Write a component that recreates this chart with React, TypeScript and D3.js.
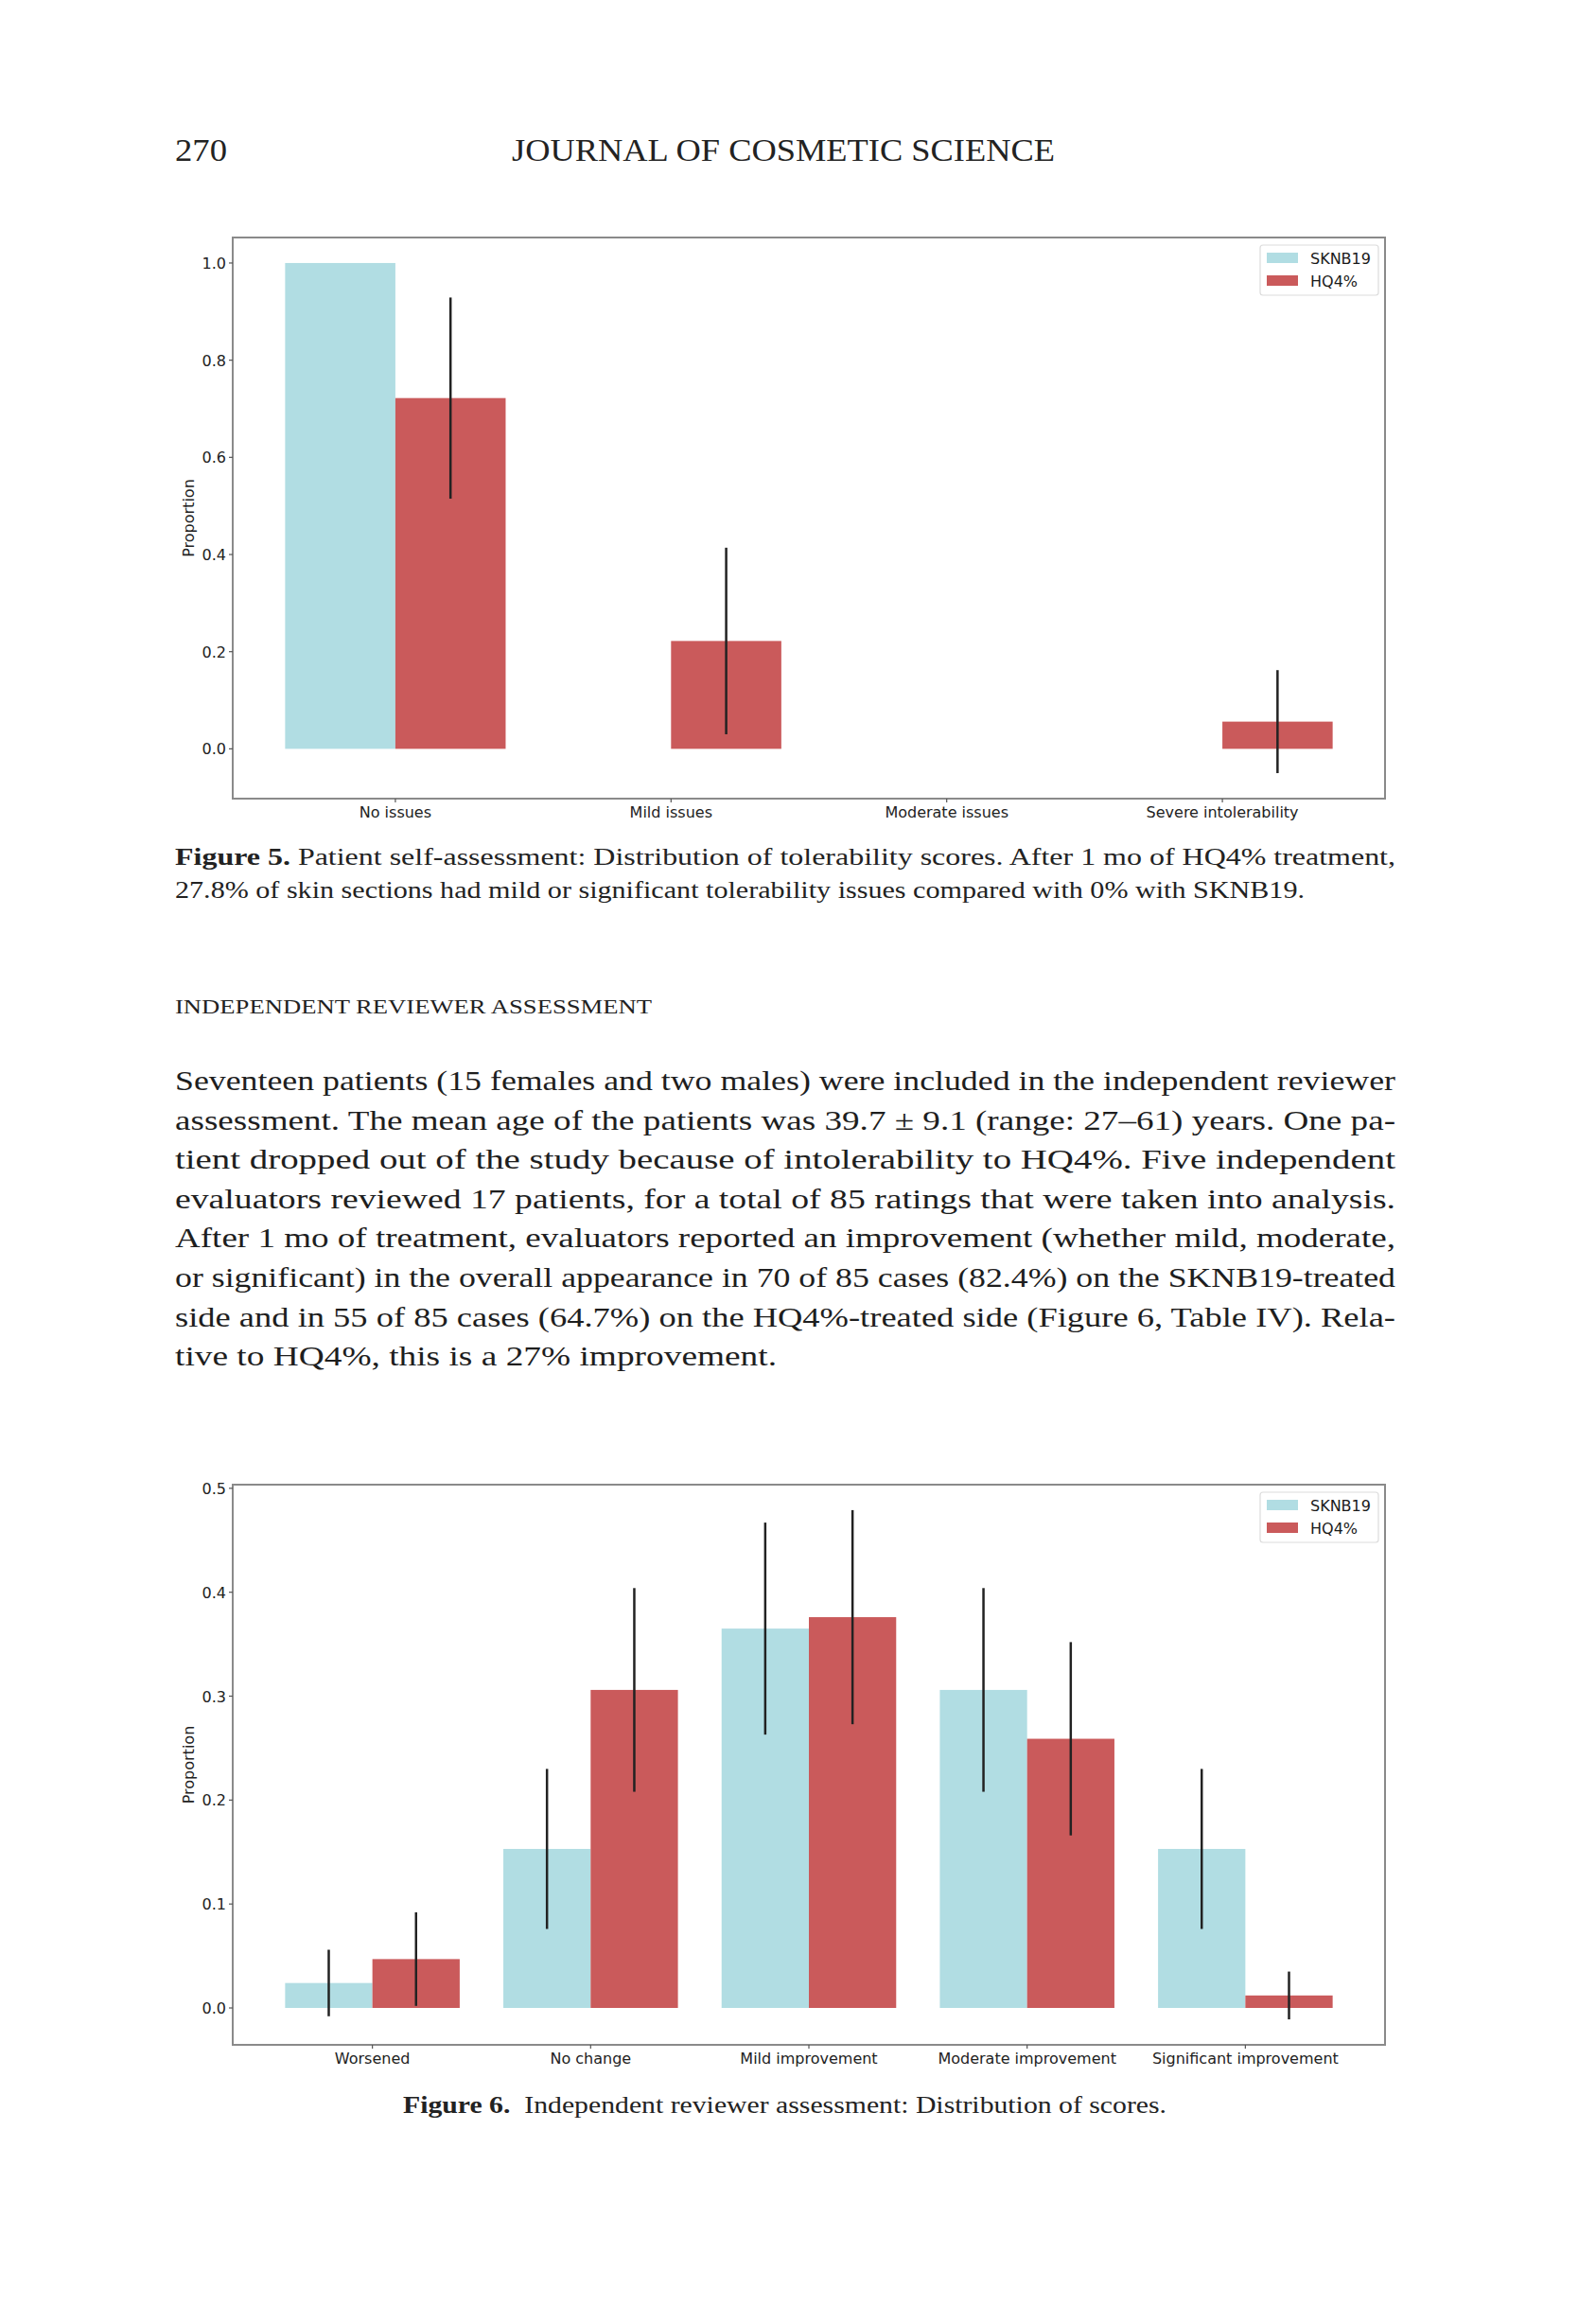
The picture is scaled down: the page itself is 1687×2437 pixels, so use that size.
import React from "react";
import * as d3 from "d3";

// ---------- DATA ----------
const seriesNames = ["SKNB19", "HQ4%"];

const fig5Categories = ["No issues", "Mild issues", "Moderate issues", "Severe intolerability"];
const fig5Sknb = [1.0, 0, 0, 0];
const fig5SknbErr = [0, 0, 0, 0];
const fig5Hq = [0.722, 0.222, 0, 0.056];
const fig5HqErr = [0.207, 0.192, 0, 0.106];
const fig5YTicks = [0, 0.2, 0.4, 0.6, 0.8, 1.0];
const fig5YTickLabels = ["0.0", "0.2", "0.4", "0.6", "0.8", "1.0"];

const fig6Categories = ["Worsened", "No change", "Mild improvement", "Moderate improvement", "Significant improvement"];
const fig6Sknb = [0.024, 0.153, 0.365, 0.306, 0.153];
const fig6SknbErr = [0.032, 0.077, 0.102, 0.098, 0.077];
const fig6Hq = [0.047, 0.306, 0.376, 0.259, 0.012];
const fig6HqErr = [0.045, 0.098, 0.103, 0.093, 0.023];
const fig6YTicks = [0, 0.1, 0.2, 0.3, 0.4, 0.5];
const fig6YTickLabels = ["0.0", "0.1", "0.2", "0.3", "0.4", "0.5"];

const headerPage = "270";
const headerJournal = "JOURNAL OF COSMETIC SCIENCE";
const fig5CaptionLines = [
  "Patient self-assessment: Distribution of tolerability scores. After 1 mo of HQ4% treatment,",
  "27.8% of skin sections had mild or significant tolerability issues compared with 0% with SKNB19.",
];
const sectionHeading = "INDEPENDENT REVIEWER ASSESSMENT";
const bodyLines = [
  "Seventeen patients (15 females and two males) were included in the independent reviewer",
  "assessment. The mean age of the patients was 39.7 \u00B1 9.1 (range: 27\u201361) years. One pa-",
  "tient dropped out of the study because of intolerability to HQ4%. Five independent",
  "evaluators reviewed 17 patients, for a total of 85 ratings that were taken into analysis.",
  "After 1 mo of treatment, evaluators reported an improvement (whether mild, moderate,",
  "or significant) in the overall appearance in 70 of 85 cases (82.4%) on the SKNB19-treated",
  "side and in 55 of 85 cases (64.7%) on the HQ4%-treated side (Figure 6, Table IV). Rela-",
  "tive to HQ4%, this is a 27% improvement.",
];
const bodyLineWidths = [1290, 1290, 1290, 1290, 1290, 1290, 1290, 636];
const fig6CaptionText = "Independent reviewer assessment: Distribution of scores.";

// ---------- STYLE ----------
const COLORS = ["#b1dde3", "#ca5a5b"];
const SANS = "'DejaVu Sans', sans-serif";
const SERIF = "'Liberation Serif', 'DejaVu Serif', serif";
const TEXT_LEFT = 185;
const FRAME_LEFT = 246;
const FRAME_RIGHT = 1464;

type ChartProps = {
  top: number;
  bottom: number;
  categories: string[];
  values: number[][];
  errors: number[][];
  yTicks: number[];
  yTickLabels: string[];
};

function BarChart({ top, bottom, categories, values, errors, yTicks, yTickLabels }: ChartProps) {
  const left = FRAME_LEFT;
  const right = FRAME_RIGHT;
  const n = categories.length;
  const barW = 0.4;
  const xMin = -barW;
  const xMax = n - 1 + barW;
  const xPad = (xMax - xMin) * 0.05;
  const x = d3.scaleLinear().domain([xMin - xPad, xMax + xPad]).range([left, right]);

  const lows: number[] = [0];
  const highs: number[] = [0];
  values.forEach((s, si) =>
    s.forEach((v, i) => {
      lows.push(v - errors[si][i]);
      highs.push(v + errors[si][i]);
    })
  );
  const yLo = d3.min(lows) as number;
  const yHi = d3.max(highs) as number;
  const yPad = (yHi - yLo) * 0.05;
  const y = d3.scaleLinear().domain([yLo - yPad, yHi + yPad]).range([bottom, top]);

  const offsets = [-barW, 0];
  const legendW = 125;
  const legendX = right - 7 - legendW;
  const legendY = top + 8;

  return (
    <g>
      {/* bars */}
      {values.map((s, si) =>
        s.map((v, i) => {
          const x0 = x(i + offsets[si]);
          const x1 = x(i + offsets[si] + barW);
          const y0 = y(Math.max(0, v));
          const y1 = y(Math.min(0, v));
          return (
            <rect
              key={`b${si}-${i}`}
              x={x0}
              y={y0}
              width={x1 - x0}
              height={Math.max(0, y1 - y0)}
              fill={COLORS[si]}
            />
          );
        })
      )}
      {/* error bars */}
      {values.map((s, si) =>
        s.map((v, i) => {
          const cx = x(i + offsets[si] + barW / 2);
          const e = errors[si][i];
          if (e <= 0) return null;
          return (
            <line
              key={`e${si}-${i}`}
              x1={cx}
              x2={cx}
              y1={y(v - e)}
              y2={y(v + e)}
              stroke="#222"
              strokeWidth={2.5}
            />
          );
        })
      )}
      {/* frame */}
      <rect x={left} y={top} width={right - left} height={bottom - top} fill="none" stroke="#8a8a8a" strokeWidth={2} />
      {/* y ticks */}
      {yTicks.map((t, i) => (
        <g key={`yt${i}`}>
          <line x1={left - 4} x2={left} y1={y(t)} y2={y(t)} stroke="#555" strokeWidth={1.2} />
          <text x={left - 7} y={y(t) + 6} textAnchor="end" fontFamily={SANS} fontSize={16} fill="#222">
            {yTickLabels[i]}
          </text>
        </g>
      ))}
      {/* x ticks */}
      {categories.map((c, i) => (
        <g key={`xt${i}`}>
          <line x1={x(i)} x2={x(i)} y1={bottom} y2={bottom + 4} stroke="#555" strokeWidth={1.2} />
          <text x={x(i)} y={bottom + 20} textAnchor="middle" fontFamily={SANS} fontSize={16} fill="#222">
            {c}
          </text>
        </g>
      ))}
      {/* y label */}
      <text
        transform={`translate(205,${(top + bottom) / 2}) rotate(-90)`}
        textAnchor="middle"
        fontFamily={SANS}
        fontSize={16}
        fill="#222"
      >
        Proportion
      </text>
      {/* legend */}
      <rect x={legendX} y={legendY} width={legendW} height={53} rx={3} fill="#fff" stroke="#dcdcdc" strokeWidth={1.2} />
      {seriesNames.map((name, si) => (
        <g key={`lg${si}`}>
          <rect x={legendX + 7} y={legendY + 8 + si * 24} width={33} height={11} fill={COLORS[si]} />
          <text x={legendX + 53} y={legendY + 20 + si * 24} fontFamily={SANS} fontSize={16} fill="#1a1a1a">
            {name}
          </text>
        </g>
      ))}
    </g>
  );
}

export default function App() {
  return (
    <svg
      width={1687}
      height={2437}
      viewBox="0 0 1687 2437"
      style={{ position: "absolute", left: 0, top: 0, background: "#fff" }}
    >
      <rect x={0} y={0} width={1687} height={2437} fill="#fff" />
      {/* header */}
      <text x={TEXT_LEFT} y={170} fontFamily={SERIF} fontSize={34} fill="#222" textLength={55} lengthAdjust="spacingAndGlyphs">
        {headerPage}
      </text>
      <text x={541} y={170} fontFamily={SERIF} fontSize={33} fill="#222" textLength={574} lengthAdjust="spacingAndGlyphs">
        {headerJournal}
      </text>

      {/* Figure 5 */}
      <BarChart
        top={251}
        bottom={844}
        categories={fig5Categories}
        values={[fig5Sknb, fig5Hq]}
        errors={[fig5SknbErr, fig5HqErr]}
        yTicks={fig5YTicks}
        yTickLabels={fig5YTickLabels}
      />
      <text x={TEXT_LEFT} y={914} fontFamily={SERIF} fontSize={26} fill="#222" textLength={1290} lengthAdjust="spacingAndGlyphs">
        <tspan fontWeight="bold">Figure 5.</tspan> {fig5CaptionLines[0]}
      </text>
      <text x={TEXT_LEFT} y={949} fontFamily={SERIF} fontSize={26} fill="#222" textLength={1194} lengthAdjust="spacingAndGlyphs">
        {fig5CaptionLines[1]}
      </text>

      {/* Section */}
      <text x={TEXT_LEFT} y={1071} fontFamily={SERIF} fontSize={22} fill="#222" textLength={504} lengthAdjust="spacingAndGlyphs">
        {sectionHeading}
      </text>
      {bodyLines.map((l, i) => (
        <text
          key={`bl${i}`}
          x={TEXT_LEFT}
          y={1152 + i * 41.6}
          fontFamily={SERIF}
          fontSize={30}
          fill="#1e1e1e"
          textLength={bodyLineWidths[i]}
          lengthAdjust="spacingAndGlyphs"
        >
          {l}
        </text>
      ))}

      {/* Figure 6 */}
      <BarChart
        top={1569}
        bottom={2161}
        categories={fig6Categories}
        values={[fig6Sknb, fig6Hq]}
        errors={[fig6SknbErr, fig6HqErr]}
        yTicks={fig6YTicks}
        yTickLabels={fig6YTickLabels}
      />
      <text x={426} y={2233} fontFamily={SERIF} fontSize={26} fill="#222" textLength={807} lengthAdjust="spacingAndGlyphs">
        <tspan fontWeight="bold">Figure 6.</tspan>
        {"\u2002"}
        {fig6CaptionText}
      </text>
    </svg>
  );
}
